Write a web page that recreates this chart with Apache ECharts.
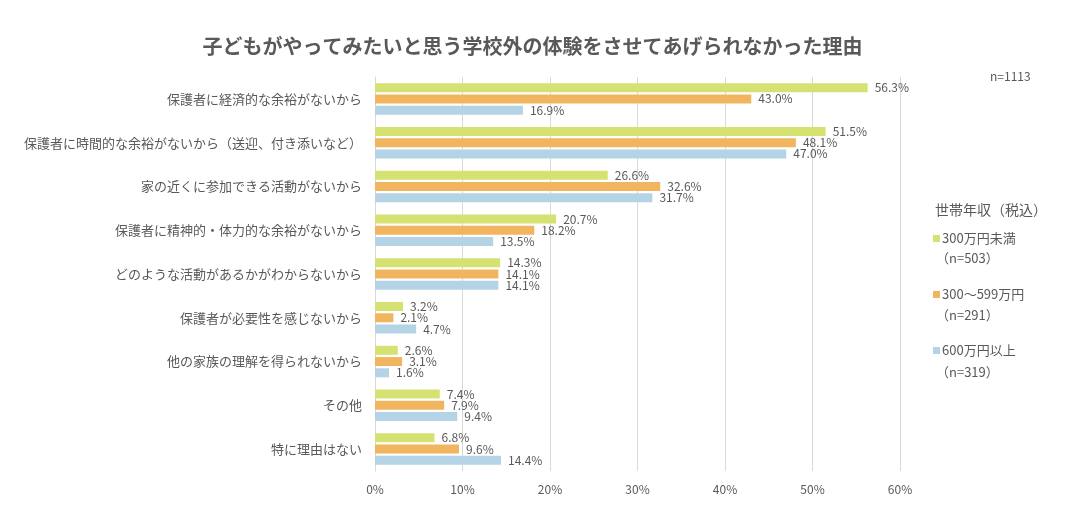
<!DOCTYPE html>
<html>
<head>
<meta charset="utf-8">
<script src="https://cdn.jsdelivr.net/npm/echarts@6/dist/echarts.min.js"></script>
<style>
    html, body { margin: 0; padding: 0; background: #fff; }
    #chart { width: 1065px; height: 505px; }
</style>
</head>
<body>
<div id="chart"></div>
<script>
// データ
const categories = [
    '保護者に経済的な余裕がないから',
    '保護者に時間的な余裕がないから（送迎、付き添いなど）',
    '家の近くに参加できる活動がないから',
    '保護者に精神的・体力的な余裕がないから',
    'どのような活動があるかがわからないから',
    '保護者が必要性を感じないから',
    '他の家族の理解を得られないから',
    'その他',
    '特に理由はない'
];
const seriesNames = ['300万円未満', '300〜599万円', '600万円以上'];
const seriesN = ['（n=503）', '（n=291）', '（n=319）'];
const low = [56.3, 51.5, 26.6, 20.7, 14.3, 3.2, 2.6, 7.4, 6.8];
const mid = [43.0, 48.1, 32.6, 18.2, 14.1, 2.1, 3.1, 7.9, 9.6];
const high = [16.9, 47.0, 31.7, 13.5, 14.1, 4.7, 1.6, 9.4, 14.4];
const colors = ['#d5e170', '#f1b55f', '#b4d3e4'];

const FONT = '"Noto Sans CJK JP", "Noto Sans", sans-serif';
const TEXT = '#595959';

document.addEventListener("DOMContentLoaded", function () {
    const chart = echarts.init(document.getElementById('chart'));

    const values = [low, mid, high];
    const series = values.map(function (data, i) {
        return {
            name: seriesNames[i],
            type: 'bar',
            data: data,
            barWidth: 9,
            barGap: '25%',
            itemStyle: { color: colors[i] },
            label: {
                show: true,
                position: 'right',
                distance: 7,
                color: TEXT,
                fontSize: 12,
                fontFamily: FONT,
                formatter: function (p) { return p.value.toFixed(1) + '%'; }
            }
        };
    });

    // 凡例の (n=...) 行
    const nTexts = seriesN.map(function (t, i) {
        return {
            type: 'text',
            left: 936,
            top: 252 + i * 57,
            style: { text: t, fill: TEXT, fontSize: 13, fontFamily: FONT }
        };
    });

    chart.setOption({
        textStyle: { fontFamily: FONT },
        title: [
            {
                text: '子どもがやってみたいと思う学校外の体験をさせてあげられなかった理由',
                left: 'center',
                top: 31,
                textStyle: { color: TEXT, fontSize: 20, fontWeight: 'bold', fontFamily: FONT }
            },
            {
                text: '世帯年収（税込）',
                left: 930,
                top: 198,
                textStyle: { color: TEXT, fontSize: 14, fontWeight: 'normal', fontFamily: FONT }
            },
            {
                text: 'n=1113',
                left: 985,
                top: 65,
                textStyle: { color: TEXT, fontSize: 12, fontWeight: 'normal', fontFamily: FONT }
            }
        ],
        legend: {
            orient: 'vertical',
            left: 928,
            top: 227,
            itemWidth: 7,
            itemHeight: 7,
            itemGap: 43,
            icon: 'rect',
            textStyle: { color: TEXT, fontSize: 13, fontFamily: FONT, padding: [0, 0, 0, -3] },
            data: seriesNames
        },
        graphic: nTexts,
        grid: { left: 375, right: 165, top: 77, bottom: 34, containLabel: false },
        xAxis: {
            type: 'value',
            min: 0,
            max: 60,
            interval: 10,
            axisLine: { show: false },
            axisTick: { show: false },
            splitLine: { lineStyle: { color: '#d9d9d9' } },
            axisLabel: { formatter: '{value}%', color: TEXT, fontSize: 12, margin: 12 }
        },
        yAxis: {
            type: 'category',
            inverse: true,
            data: categories,
            axisLine: { lineStyle: { color: '#d9d9d9' } },
            axisTick: { show: false },
            axisLabel: { color: TEXT, fontSize: 13, margin: 13 }
        },
        series: series
    });
});
</script>
</body>
</html>
